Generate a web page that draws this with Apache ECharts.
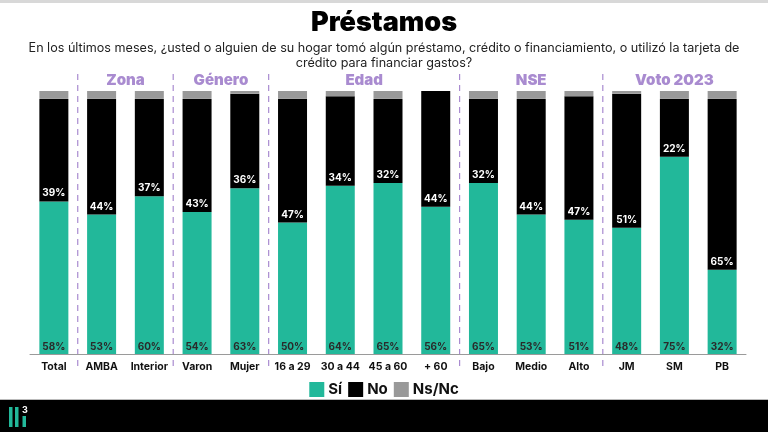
<!DOCTYPE html>
<html><head><meta charset="utf-8">
<script src="https://cdn.jsdelivr.net/npm/echarts@6/dist/echarts.min.js"></script>
<style>html,body{margin:0;padding:0;background:#fff}#c{width:768px;height:432px}</style>
</head><body><div id="c"></div>
<script>
const categories = ['Total','AMBA','Interior','Varon','Mujer','16 a 29','30 a 44','45 a 60','+ 60','Bajo','Medio','Alto','JM','SM','PB'];
const si   = [58,53,60,54,63,50,64,65,56,65,53,51,48,75,32];
const no   = [39,44,37,43,36,47,34,32,44,32,44,47,51,22,65];
const nsnc = [3,3,3,3,1,3,2,3,0,3,3,2,1,3,3];
const groups = [
  {name:'Zona', from:1, to:2},
  {name:'Género', from:3, to:4},
  {name:'Edad', from:5, to:8},
  {name:'NSE', from:9, to:11},
  {name:'Voto 2023', from:12, to:14}
];
const FONT = 'Inter, "Open Sans", sans-serif';
const TEAL = '#22b89a', GRAY = '#999999', BLACK = '#000000', PURPLE = '#a98bd0';

const chart = echarts.init(document.getElementById('c'));
const option = {
  backgroundColor:'#fff',
  animation:false,
  textStyle:{fontFamily:FONT},
  title:{
    left:'center', top:4,
    text:'Préstamos',
    textStyle:{fontSize:27, fontWeight:900, color:'#000', fontFamily:FONT},
    subtext:'En los últimos meses, ¿usted o alguien de su hogar tomó algún préstamo, crédito o financiamiento, o utilizó la tarjeta de\ncrédito para financiar gastos?',
    subtextStyle:{fontSize:12.6, color:'#222', lineHeight:15, align:'center', fontFamily:FONT},
    itemGap:5
  },
  legend:{
    top:377, left:'center',
    itemWidth:15, itemHeight:15, itemGap:6,
    icon:'rect',
    textStyle:{fontSize:15, fontWeight:'bold', color:'#111', padding:[0,0,0,-1]},
    data:['Sí','No','Ns/Nc']
  },
  grid:{left:30, right:22, top:91, bottom:78},
  xAxis:{
    type:'category', data:categories,
    axisLine:{lineStyle:{color:'#9a9a9a', width:1}},
    axisTick:{show:false},
    axisLabel:{fontSize:10.5, fontWeight:'bold', color:'#111', margin:7, interval:0}
  },
  yAxis:{type:'value', min:0, max:100, show:false, splitLine:{show:false}},
  series:[
    {name:'Sí', type:'bar', stack:'t', data:si, barWidth:29,
     itemStyle:{color:TEAL},
     label:{show:true, position:'insideBottom', distance:2, formatter:'{c}%', fontSize:10, fontWeight:'bold', color:'#2a2a2a'}},
    {name:'No', type:'bar', stack:'t', data:no,
     itemStyle:{color:BLACK},
     label:{show:true, position:'insideBottom', distance:3, formatter:'{c}%', fontSize:10, fontWeight:'bold', color:'#fff'}},
    {name:'Ns/Nc', type:'bar', stack:'t', data:nsnc,
     itemStyle:{color:GRAY}, label:{show:false}}
  ]
};
chart.setOption(option);

function build(){
  const px = i => chart.convertToPixel({xAxisIndex:0}, categories[i]);
  const els = [
    {type:'rect', shape:{x:0,y:0,width:768,height:3}, style:{fill:'#d8d8d8'}, silent:true},
    {type:'rect', shape:{x:0,y:399,width:768,height:1}, style:{fill:'#bbbbbb'}, silent:true},
    {type:'rect', shape:{x:0,y:400,width:768,height:32}, style:{fill:'#000'}, silent:true},
    {type:'rect', shape:{x:9,y:407,width:3.5,height:20}, style:{fill:TEAL}},
    {type:'rect', shape:{x:15,y:407,width:3.5,height:20}, style:{fill:TEAL}},
    {type:'rect', shape:{x:22.5,y:416,width:3.5,height:11}, style:{fill:TEAL}},
    {type:'text', x:22, y:406, style:{text:'3', fill:'#fff', font:'bold 9px '+FONT}}
  ];
  groups.forEach(g=>{
    const xl = (px(g.from-1)+px(g.from))/2;
    els.push({type:'line', shape:{x1:xl,y1:74,x2:xl,y2:366}, style:{stroke:PURPLE, lineWidth:1.2, lineDash:[6,5]}, silent:true});
    const cx = (px(g.from)+px(g.to))/2;
    els.push({type:'text', x:cx, y:80, style:{text:g.name, fill:PURPLE, font:'900 15px '+FONT, align:'center', verticalAlign:'middle'}});
  });
  chart.setOption({graphic:{elements:els}});
}
build();
</script></body></html>
